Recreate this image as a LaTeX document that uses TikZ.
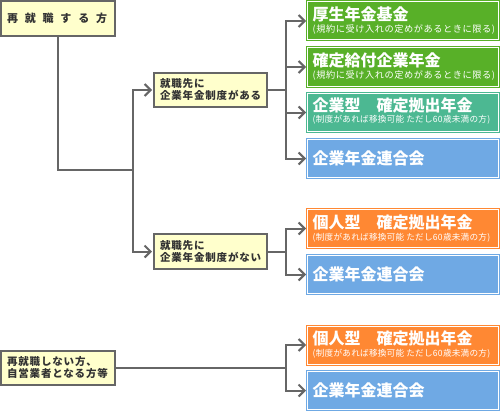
\documentclass[tikz,border=0pt]{standalone}
\usepackage{fontspec}
\usetikzlibrary{arrows.meta}
\newfontfamily\jp{Noto Sans CJK JP}
\definecolor{lgray}{HTML}{666666}
\definecolor{dtext}{HTML}{333333}
\definecolor{lyel}{HTML}{FFFFCC}
\definecolor{cgreen}{HTML}{58B028}
\definecolor{cteal}{HTML}{4CB892}
\definecolor{cblue}{HTML}{6FA9E4}
\definecolor{corange}{HTML}{FF8833}
\newcommand{\lfont}{\jp\bfseries\fontsize{10.5pt}{15pt}\selectfont\addfontfeature{LetterSpace=8}}
\newcommand{\bigsp}{\jp\bfseries\fontsize{11pt}{14pt}\selectfont\addfontfeature{LetterSpace=62}}
\newcommand{\tfont}{\jp\bfseries\fontsize{16pt}{18pt}\selectfont}
\newcommand{\sfonta}{\jp\fontsize{9.2pt}{11pt}\selectfont\addfontfeature{LetterSpace=6}}
\newcommand{\sfontb}{\jp\fontsize{8.6pt}{11pt}\selectfont\addfontfeature{LetterSpace=3}}
\begin{document}
\begin{tikzpicture}[x=1pt,y=-1pt,
  lbox/.style={draw=lgray, line width=2pt, fill=lyel, text=dtext, align=left,
    inner xsep=6pt, inner ysep=0pt, anchor=center},
  rbox/.style={draw=white, line width=1pt, preaction={draw=#1, line width=3pt},
    fill=#1, minimum width=191pt, minimum height=38pt, inner sep=0pt},
  ttl/.style={anchor=west, text=white, inner sep=0pt},
  conn/.style={draw=lgray, line width=2pt},
  arr/.style={conn, -{Straight Barb[length=6pt,width=12pt,line width=2pt]}, shorten >=1pt}
]
\useasboundingbox (0,0) rectangle (500,412);
\fill[white] (0,0) rectangle (500,412);

% left boxes
\node[lbox, minimum width=114pt, minimum height=35pt, text width=102pt] (a) at (58,18.5) {\bigsp 再就職する方};
\node[lbox, minimum width=113pt, minimum height=34pt, text width=101pt] (b) at (210.5,90) {\lfont 就職先に\\企業年金制度がある};
\node[lbox, minimum width=113pt, minimum height=35pt, text width=101pt] (c) at (210.5,251.5) {\lfont 就職先に\\企業年金制度がない};
\node[lbox, minimum width=114pt, minimum height=34pt, text width=102pt] (d) at (58,368) {\lfont 再就職しない方、\\自営業者となる方等};

% right boxes
\node[rbox=cgreen] (g1) at (403,21) {};
\node[rbox=cgreen] (g2) at (403,67) {};
\node[rbox=cteal] (t1) at (403,112.5) {};
\node[rbox=cblue] (u1) at (403,158.5) {};
\node[rbox=corange] (o2) at (403,228.5) {};
\node[rbox=cblue] (u2) at (403,274.5) {};
\node[rbox=corange] (o3) at (403,345) {};
\node[rbox=cblue] (u3) at (403,390.5) {};

\node[ttl] (g1t) at ([xshift=5.5pt,yshift=-13pt]g1.north west) {\tfont 厚生年金基金};
\node[ttl] (g1s) at ([xshift=5.5pt,yshift=-28.5pt]g1.north west) {\sfonta (規約に受け入れの定めがあるときに限る)};
\node[ttl] (g2t) at ([xshift=5.5pt,yshift=-13pt]g2.north west) {\tfont 確定給付企業年金};
\node[ttl] (g2s) at ([xshift=5.5pt,yshift=-28.5pt]g2.north west) {\sfonta (規約に受け入れの定めがあるときに限る)};
\node[ttl] (t1t) at ([xshift=5.5pt,yshift=-12pt]t1.north west) {\tfont 企業型　確定拠出年金};
\node[ttl] (t1s) at ([xshift=5.5pt,yshift=-27pt]t1.north west) {\sfontb (制度があれば移換可能 ただし60歳未満の方)};
\node[ttl] (u1t) at ([xshift=5.5pt]u1.west) {\tfont 企業年金連合会};
\node[ttl] (o2t) at ([xshift=5.5pt,yshift=-13pt]o2.north west) {\tfont 個人型　確定拠出年金};
\node[ttl] (o2s) at ([xshift=5.5pt,yshift=-28.5pt]o2.north west) {\sfontb (制度があれば移換可能 ただし60歳未満の方)};
\node[ttl] (u2t) at ([xshift=5.5pt]u2.west) {\tfont 企業年金連合会};
\node[ttl] (o3t) at ([xshift=5.5pt,yshift=-13pt]o3.north west) {\tfont 個人型　確定拠出年金};
\node[ttl] (o3s) at ([xshift=5.5pt,yshift=-28.5pt]o3.north west) {\sfontb (制度があれば移換可能 ただし60歳未満の方)};
\node[ttl] (u3t) at ([xshift=5.5pt]u3.west) {\tfont 企業年金連合会};

% junctions
\coordinate (ja) at (58,170);
\coordinate (jb) at (133,170);
\coordinate (j1) at (286,90);
\coordinate (j2) at (286,251.5);
\coordinate (j3) at (286,368);

% connectors
\draw[conn] (a.south) -- (ja) -- (jb);
\draw[arr] (jb) |- (b.west);
\draw[arr] (jb) |- (c.west);
\draw[conn] (b.east) -- (j1);
\draw[arr] (j1) |- (g1.west);
\draw[arr] (j1) |- (g2.west);
\draw[arr] (j1) |- (t1.west);
\draw[arr] (j1) |- (u1.west);
\draw[conn] (c.east) -- (j2);
\draw[arr] (j2) |- (o2.west);
\draw[arr] (j2) |- (u2.west);
\draw[conn] (d.east) -- (j3);
\draw[arr] (j3) |- (o3.west);
\draw[arr] (j3) |- (u3.west);
\end{tikzpicture}
\end{document}
